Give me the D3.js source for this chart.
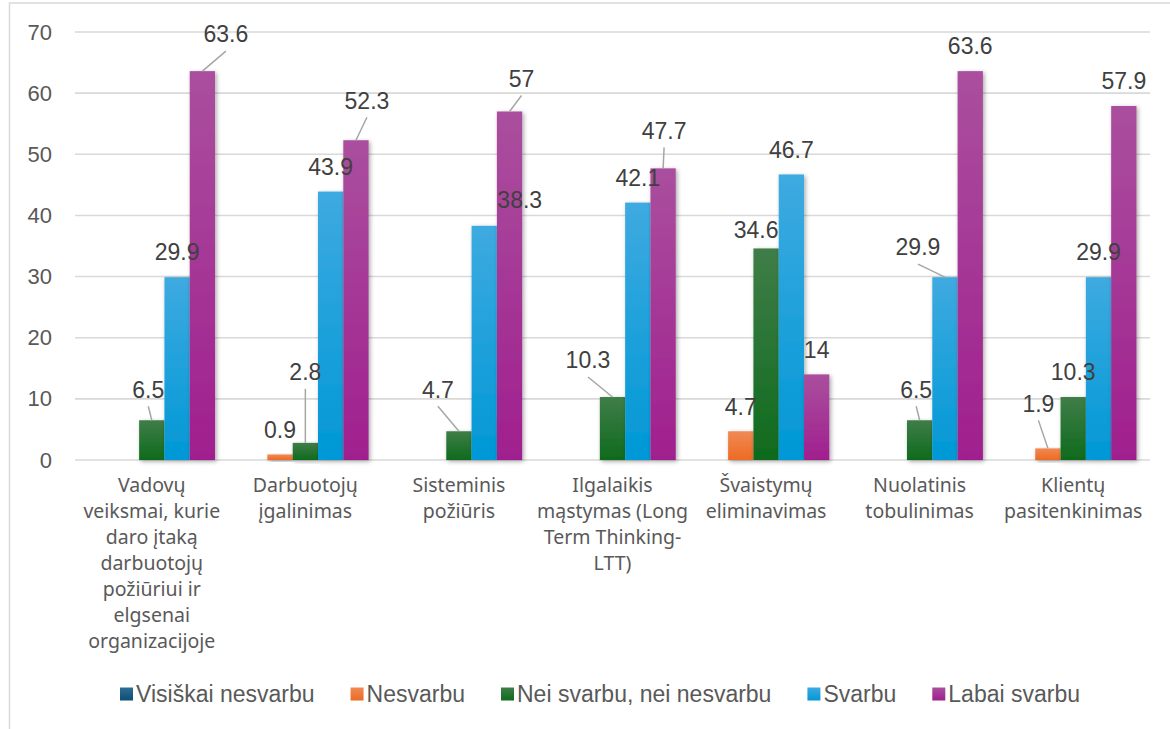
<!DOCTYPE html>
<html>
<head>
<meta charset="utf-8">
<script src="https://cdn.jsdelivr.net/npm/d3@7"></script>
<style>
  html, body { margin: 0; padding: 0; background: #fff; }
  svg { display: block; }
</style>
</head>
<body>
<svg id="chart" width="1170" height="729"></svg>
<script>
// Categories (each wrapped onto the lines shown under the axis)
const categories = [
  ["Vadovų", "veiksmai, kurie", "daro įtaką", "darbuotojų", "požiūriui ir", "elgsenai", "organizacijoje"],
  ["Darbuotojų", "įgalinimas"],
  ["Sisteminis", "požiūris"],
  ["Ilgalaikis", "mąstymas (Long", "Term Thinking-", "LTT)"],
  ["Švaistymų", "eliminavimas"],
  ["Nuolatinis", "tobulinimas"],
  ["Klientų", "pasitenkinimas"]
];

const seriesNames = ["Visiškai nesvarbu", "Nesvarbu", "Nei svarbu, nei nesvarbu", "Svarbu", "Labai svarbu"];

const visiskaiNesvarbu = [0, 0, 0, 0, 0, 0, 0];
const nesvarbu         = [0, 0.9, 0, 0, 4.7, 0, 1.9];
const neiSvarbuNei     = [6.5, 2.8, 4.7, 10.3, 34.6, 6.5, 10.3];
const svarbu           = [29.9, 43.9, 38.3, 42.1, 46.7, 29.9, 29.9];
const labaiSvarbu      = [63.6, 52.3, 57, 47.7, 14, 63.6, 57.9];

const yTicks = [0, 10, 20, 30, 40, 50, 60, 70];

const seriesValues = [visiskaiNesvarbu, nesvarbu, neiSvarbuNei, svarbu, labaiSvarbu];

// Fill gradients (top, bottom) per series
const seriesColors = [
  ["#2f6d94", "#104d74"],
  ["#f08a55", "#ee6a22"],
  ["#3f7d48", "#0f6b1d"],
  ["#3eaae0", "#0098d6"],
  ["#aa4f9e", "#a01f8e"]
];

// Hand-placed data labels: key "series-category" -> [dx, dy, leader line]
// dx/dy move the label centre relative to the top-centre of its bar.
const labelNudges = {
  "2-0": [-3.5, -31, true],
  "2-1": [0, -71, true],
  "2-2": [-21, -42, true],
  "2-3": [-24.5, -37, true],
  "2-4": [-10, -19, false],
  "2-5": [-3.5, -31, true],
  "1-6": [-9.5, -45, true],
  "3-2": [35.5, -26, false],
  "3-5": [-27, -30, true],
  "4-0": [23.5, -37, true],
  "4-1": [11, -40, true],
  "4-2": [12, -33, true],
  "4-3": [1, -38, true]
};

const svg = d3.select("#chart");
const defs = svg.append("defs");

seriesColors.forEach((c, i) => {
  const g = defs.append("linearGradient")
    .attr("id", "grad" + i)
    .attr("x1", 0).attr("y1", 0).attr("x2", 0).attr("y2", 1);
  g.append("stop").attr("offset", "0%").attr("stop-color", c[0]);
  g.append("stop").attr("offset", "100%").attr("stop-color", c[1]);
});

const shadow = defs.append("filter").attr("id", "barShadow")
  .attr("x", "-30%").attr("y", "-10%").attr("width", "160%").attr("height", "130%");
shadow.append("feDropShadow")
  .attr("dx", 1.5).attr("dy", 1.5).attr("stdDeviation", 2)
  .attr("flood-color", "#000").attr("flood-opacity", 0.35);

// Outer chart frame
svg.append("rect")
  .attr("x", 9.5).attr("y", 3)
  .attr("width", 1300).attr("height", 900)
  .attr("fill", "#fff")
  .attr("stroke", "#d9d9d9").attr("stroke-width", 1.5);

const plotLeft = 75, plotRight = 1150, plotTop = 32, plotBottom = 460;

const y = d3.scaleLinear().domain([0, 70]).range([plotBottom, plotTop]);
const x0 = d3.scaleBand().domain(d3.range(categories.length)).range([plotLeft, plotRight]).padding(0);
const x1 = d3.scaleBand().domain(d3.range(seriesNames.length))
  .range([0, x0.bandwidth()]).paddingInner(0).paddingOuter(0.535);

// Gridlines
svg.append("g").selectAll("line").data(yTicks).join("line")
  .attr("x1", plotLeft).attr("x2", plotRight)
  .attr("y1", d => y(d)).attr("y2", d => y(d))
  .attr("stroke", "#d9d9d9").attr("stroke-width", 1.6);

// Y axis labels
const yAxis = d3.axisLeft(y).tickValues(yTicks).tickSize(0).tickPadding(0);
const yAxisG = svg.append("g").attr("transform", "translate(52,0)").call(yAxis);
yAxisG.select(".domain").remove();
yAxisG.selectAll("text")
  .attr("font-family", "'Liberation Sans', Arial, sans-serif")
  .attr("font-size", 22)
  .attr("fill", "#595959");

// Bars
const barData = [];
seriesValues.forEach((vals, s) => {
  vals.forEach((v, c) => barData.push({ s, c, v }));
});

svg.append("g").selectAll("rect").data(barData.filter(d => d.v > 0)).join("rect")
  .attr("x", d => x0(d.c) + x1(d.s))
  .attr("y", d => y(d.v))
  .attr("width", x1.bandwidth())
  .attr("height", d => y(0) - y(d.v))
  .attr("fill", d => `url(#grad${d.s})`)
  .attr("filter", "url(#barShadow)");

// Data labels with leader lines
const labelG = svg.append("g");
barData.filter(d => d.v > 0).forEach(d => {
  const bx = x0(d.c) + x1(d.s) + x1.bandwidth() / 2;
  const by = y(d.v);
  const nudge = labelNudges[d.s + "-" + d.c] || [0, -25, false];
  const lx = bx + nudge[0];
  const ly = by + nudge[1];
  if (nudge[2]) {
    labelG.append("line")
      .attr("x1", lx).attr("y1", ly + 17)
      .attr("x2", bx).attr("y2", by)
      .attr("stroke", "#a6a6a6").attr("stroke-width", 1.5);
  }
  labelG.append("text")
    .attr("x", lx).attr("y", ly)
    .attr("dy", "0.36em")
    .attr("text-anchor", "middle")
    .attr("font-family", "'Liberation Sans', Arial, sans-serif")
    .attr("font-size", 23)
    .attr("fill", "#404040")
    .text(d.v);
});

// Category labels
const catG = svg.append("g");
categories.forEach((lines, c) => {
  const t = catG.append("text")
    .attr("text-anchor", "middle")
    .attr("font-family", "'Noto Sans', 'Open Sans', sans-serif")
    .attr("font-size", 19.5)
    .attr("fill", "#595959");
  lines.forEach((ln, i) => {
    t.append("tspan")
      .attr("x", x0(c) + x0.bandwidth() / 2)
      .attr("y", 485 + i * 26)
      .attr("dy", "0.36em")
      .text(ln);
  });
});

// Legend
const legend = svg.append("g");
let cursor = 0;
seriesNames.forEach((name, i) => {
  const item = legend.append("g").attr("transform", `translate(${cursor},0)`);
  item.append("rect")
    .attr("x", 0).attr("y", -6.5).attr("width", 13).attr("height", 13)
    .attr("fill", `url(#grad${i})`);
  const t = item.append("text")
    .attr("x", 16).attr("y", 0).attr("dy", "0.36em")
    .attr("font-family", "'Liberation Sans', Arial, sans-serif")
    .attr("font-size", 23)
    .attr("fill", "#595959")
    .text(name);
  cursor += 16 + t.node().getComputedTextLength() + 36;
});
const legendWidth = cursor - 36;
legend.attr("transform", `translate(${600 - legendWidth / 2},694)`);
</script>
</body>
</html>
